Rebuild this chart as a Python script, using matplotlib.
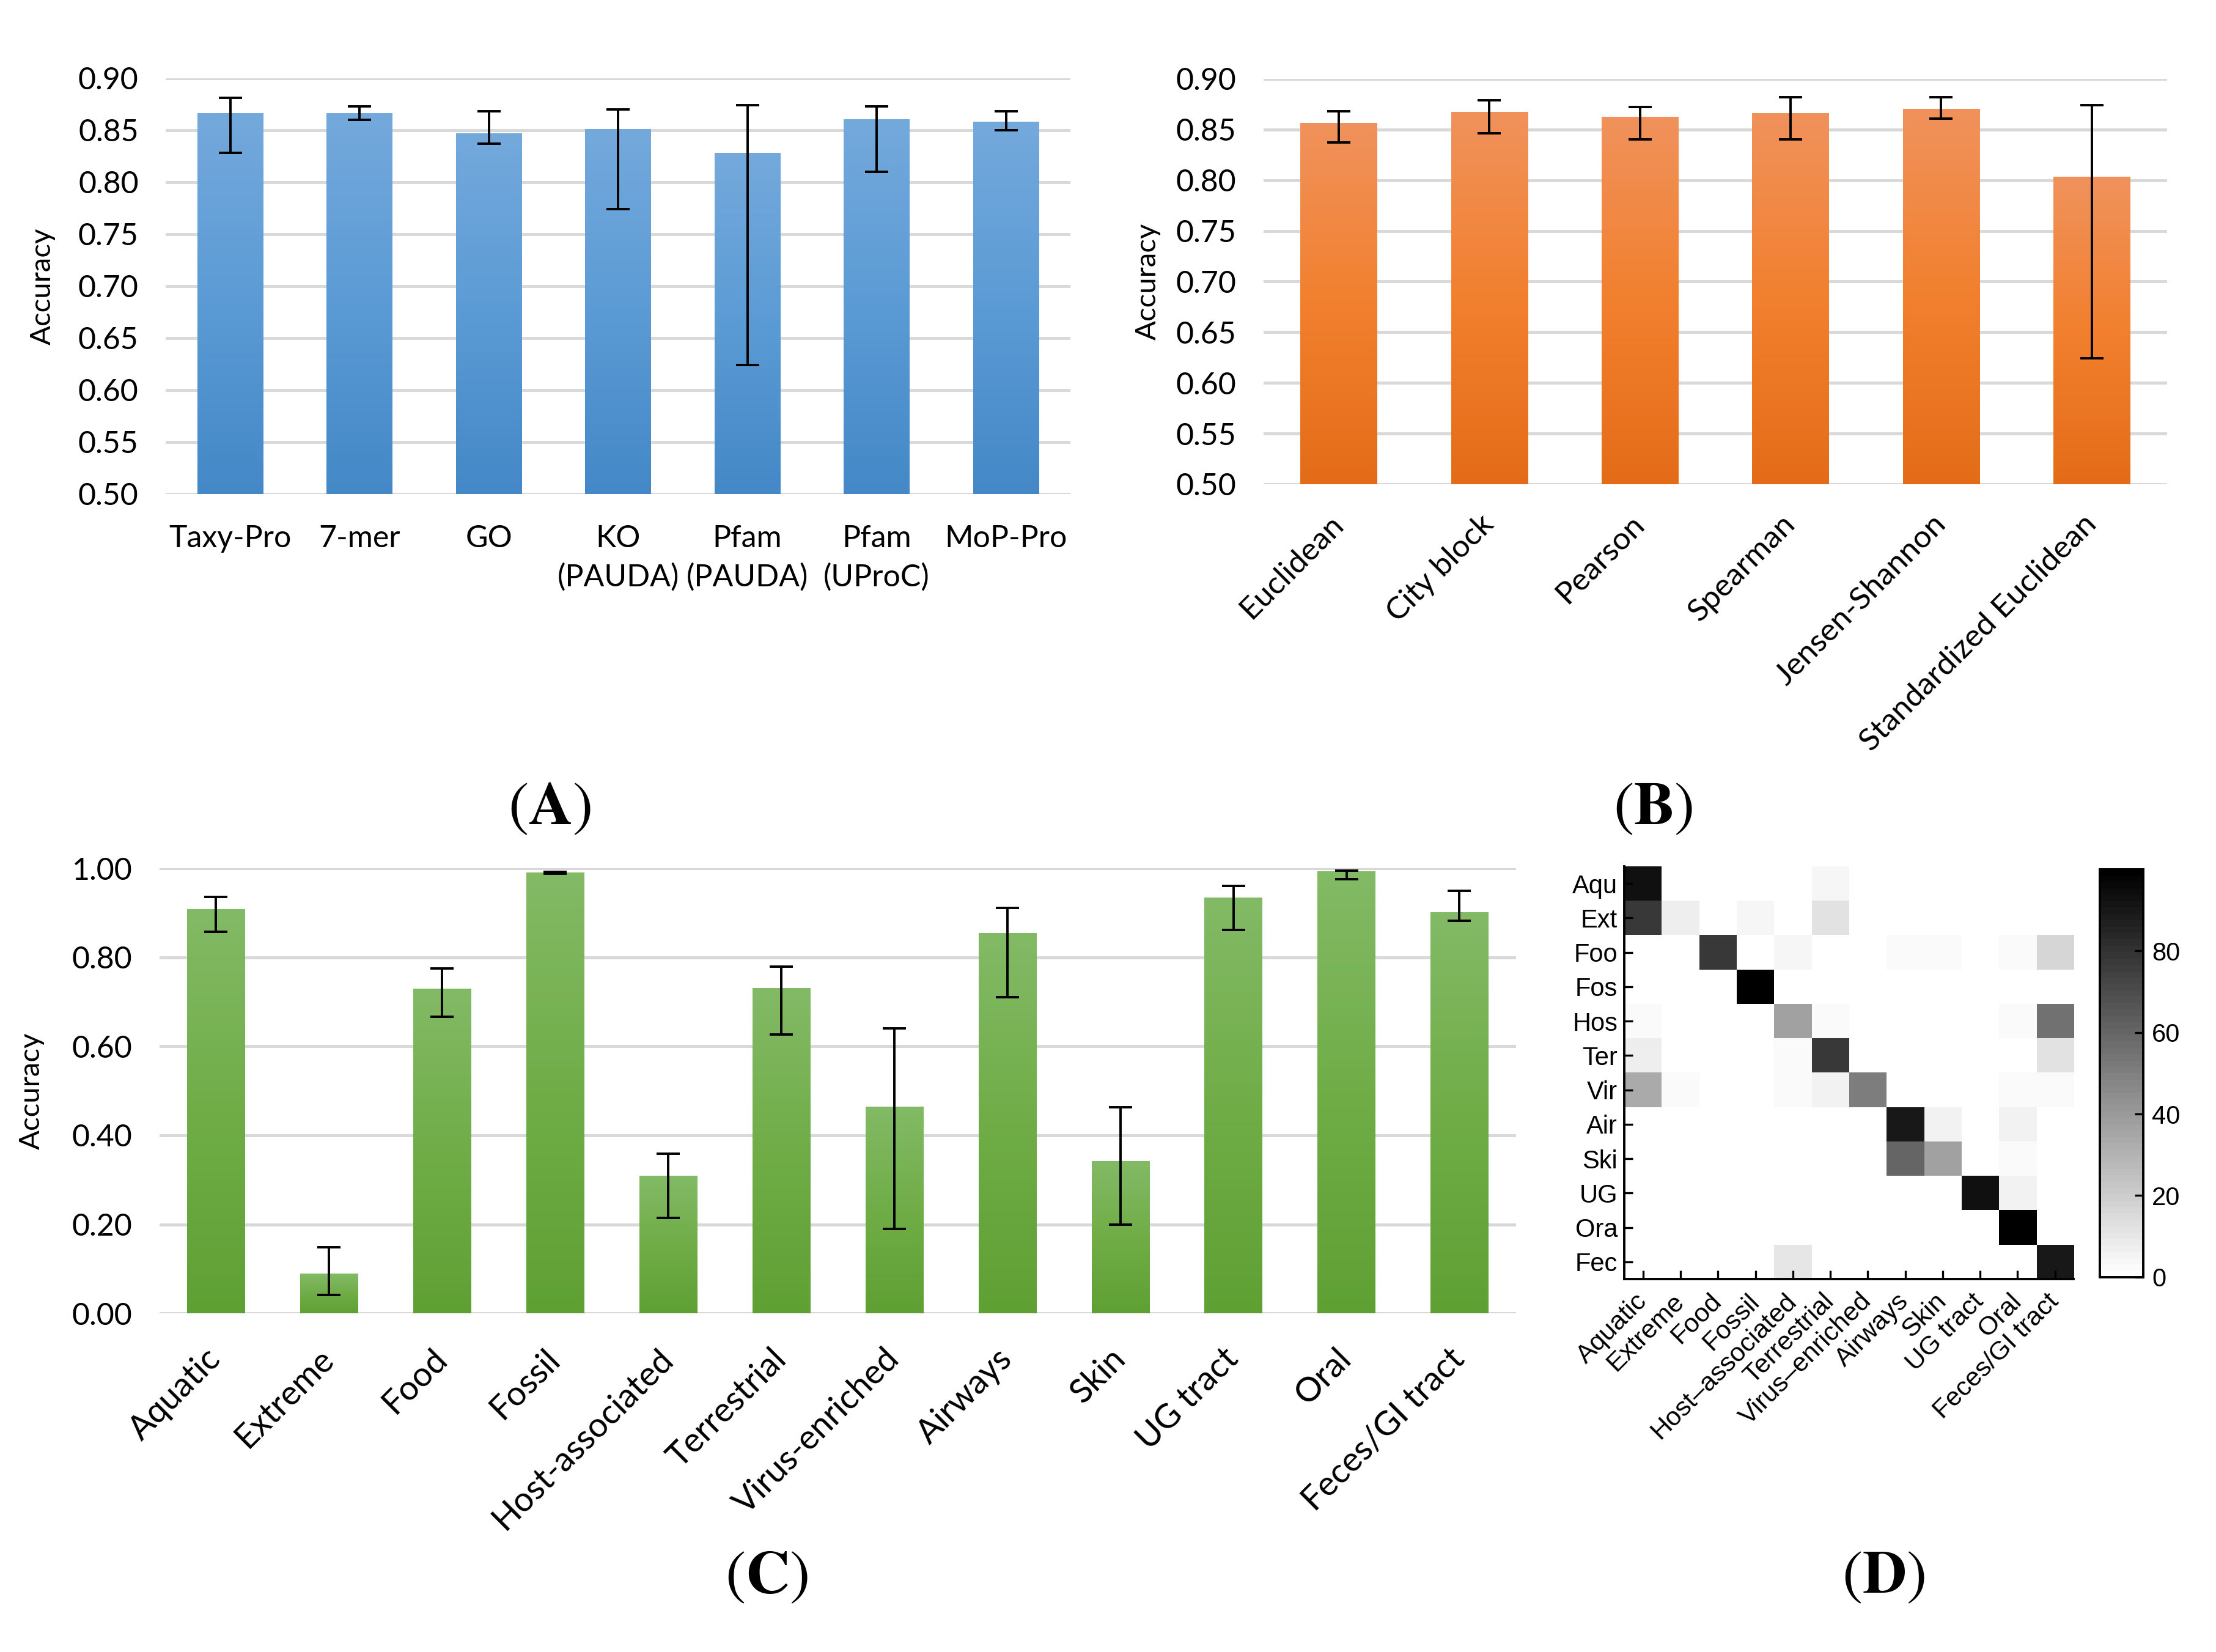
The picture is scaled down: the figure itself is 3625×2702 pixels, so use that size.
import numpy as np
import matplotlib
matplotlib.use('Agg')
import matplotlib.pyplot as plt
from matplotlib.colors import LinearSegmentedColormap
from matplotlib.ticker import FormatStrFormatter

## data
# (A) feature sets
feat_names = ['Taxy-Pro', '7-mer', 'GO', 'KO\n(PAUDA)', 'Pfam\n(PAUDA)', 'Pfam\n(UProC)', 'MoP-Pro']
feat_acc = [0.866, 0.866, 0.847, 0.851, 0.828, 0.860, 0.858]
feat_lo = [0.828, 0.860, 0.837, 0.774, 0.624, 0.810, 0.850]
feat_hi = [0.881, 0.873, 0.868, 0.870, 0.874, 0.873, 0.868]

# (B) distance measures
dist_names = ['Euclidean', 'City block', 'Pearson', 'Spearman', 'Jensen-Shannon', 'Standardized Euclidean']
dist_acc = [0.856, 0.867, 0.862, 0.866, 0.870, 0.803]
dist_lo = [0.837, 0.846, 0.840, 0.840, 0.861, 0.624]
dist_hi = [0.868, 0.879, 0.872, 0.882, 0.882, 0.874]

# (C) per environment
env_names = ['Aquatic', 'Extreme', 'Food', 'Fossil', 'Host-associated', 'Terrestrial',
             'Virus-enriched', 'Airways', 'Skin', 'UG tract', 'Oral', 'Feces/GI tract']
env_acc = [0.907, 0.088, 0.729, 0.990, 0.309, 0.730, 0.463, 0.854, 0.341, 0.933, 0.992, 0.901]
env_lo = [0.857, 0.042, 0.666, 0.988, 0.215, 0.627, 0.190, 0.711, 0.199, 0.861, 0.975, 0.882]
env_hi = [0.936, 0.149, 0.775, 0.992, 0.359, 0.779, 0.640, 0.911, 0.463, 0.961, 0.995, 0.950]

# (D) confusion matrix (%), rows = true, cols = predicted
conf_rows = ['Aqu', 'Ext', 'Foo', 'Fos', 'Hos', 'Ter', 'Vir', 'Air', 'Ski', 'UG', 'Ora', 'Fec']
conf_cols = ['Aquatic', 'Extreme', 'Food', 'Fossil', 'Host\u2013associated', 'Terrestrial',
             'Virus\u2013enriched', 'Airways', 'Skin', 'UG tract', 'Oral', 'Feces/GI tract']
conf = np.array([
    [93, 0, 0, 0, 0, 4, 0, 0, 0, 0, 0, 0],
    [77, 7, 0, 4, 0, 12, 0, 0, 0, 0, 0, 0],
    [0, 0, 77, 0, 4, 0, 0, 2, 2, 0, 2, 16],
    [0, 0, 0, 99, 0, 0, 0, 0, 0, 0, 0, 0],
    [2, 0, 0, 0, 37, 2, 0, 0, 0, 0, 2, 56],
    [7, 0, 0, 0, 2, 77, 0, 0, 0, 0, 0, 12],
    [33, 2, 0, 0, 2, 6, 50, 0, 0, 0, 2, 3],
    [0, 0, 0, 0, 0, 0, 0, 90, 6, 0, 5, 0],
    [0, 0, 0, 0, 0, 0, 0, 60, 37, 0, 2, 0],
    [0, 0, 0, 0, 0, 0, 0, 0, 0, 93, 5, 0],
    [0, 0, 0, 0, 0, 0, 0, 0, 0, 0, 99, 0],
    [0, 0, 0, 0, 10, 0, 0, 0, 0, 0, 0, 90],
])

BLUE = ['#4488C7', '#5B9BD5', '#74A9DC']
ORANGE = ['#E46C18', '#F2802E', '#F0925C']
GREEN = ['#5FA033', '#70AD47', '#83BA66']

FONT = 'Lato'
GRID = '#D9D9D9'
plt.rcParams['mathtext.fontset'] = 'stix'


def grad_bars(ax, vals, lo, hi, cols, ybase):
    x = np.arange(len(vals))
    vals = np.array(vals)
    bars = ax.bar(x, vals - ybase, 0.51, bottom=ybase, color='none', zorder=2)
    cmap = LinearSegmentedColormap.from_list('g', cols)
    grad = np.linspace(0, 1, 256).reshape(-1, 1)
    for b in bars:
        x0, y0 = b.get_x(), b.get_y()
        ax.imshow(grad, extent=[x0, x0 + b.get_width(), y0, y0 + b.get_height()],
                  origin='lower', aspect='auto', cmap=cmap, zorder=2)
    ax.errorbar(x, vals, yerr=[vals - np.array(lo), np.array(hi) - vals], fmt='none',
                ecolor='black', elinewidth=1.4, capsize=7, capthick=1.4, zorder=3)
    ax.set_xlim(-0.5, len(vals) - 0.5)
    for s in ax.spines.values():
        s.set_visible(False)
    ax.set_axisbelow(True)
    ax.grid(axis='y', color=GRID, lw=1.8)
    ax.yaxis.set_major_formatter(FormatStrFormatter('%.2f'))
    ax.tick_params(length=0, labelsize=18, pad=16)
    for t in ax.get_yticklabels():
        t.set_fontfamily(FONT)
    ax.set_xticks(x)


fig = plt.figure(figsize=(18.125, 13.51), dpi=200)

## (A)
axA = fig.add_axes([0.0748, 0.7010, 0.4083, 0.2517])
grad_bars(axA, feat_acc, feat_lo, feat_hi, BLUE, 0.5)
axA.set_ylim(0.5, 0.9)
axA.set_yticks(np.arange(0.5, 0.901, 0.05))
axA.set_xticklabels(feat_names, fontfamily=FONT, fontsize=18, linespacing=1.45)
axA.tick_params(axis='x', pad=18)
axA.set_ylabel('Accuracy', fontfamily=FONT, fontsize=17)
axA.yaxis.set_label_coords(-0.122, 0.5)

## (B)
axB = fig.add_axes([0.5702, 0.7069, 0.4077, 0.2454])
grad_bars(axB, dist_acc, dist_lo, dist_hi, ORANGE, 0.5)
axB.set_ylim(0.5, 0.9)
axB.set_yticks(np.arange(0.5, 0.901, 0.05))
axB.set_xticklabels(dist_names, fontfamily=FONT, fontsize=18.5, rotation=45,
                    ha='right', va='center', rotation_mode='anchor')
axB.tick_params(axis='x', pad=21)
axB.set_ylabel('Accuracy', fontfamily=FONT, fontsize=17)
axB.yaxis.set_label_coords(-0.114, 0.5)

## (C)
axC = fig.add_axes([0.0720, 0.2050, 0.6121, 0.2694])
grad_bars(axC, env_acc, env_lo, env_hi, GREEN, 0.0)
axC.set_ylim(0, 1.0)
axC.set_yticks(np.arange(0, 1.001, 0.2))
axC.set_xticklabels(env_names, fontfamily=FONT, fontsize=20, rotation=45,
                    ha='right', va='center', rotation_mode='anchor')
axC.tick_params(axis='x', pad=24)
axC.set_ylabel('Accuracy', fontfamily=FONT, fontsize=17)
axC.yaxis.set_label_coords(-0.085, 0.5)

## (D)
axD = fig.add_axes([0.7330, 0.2258, 0.2028, 0.2498])
gcm = plt.get_cmap('gray_r', 64)
im = axD.imshow(conf, cmap=gcm, vmin=0, vmax=100, aspect='auto', interpolation='nearest')
axD.set_xticks(np.arange(len(conf_cols)))
axD.set_yticks(np.arange(len(conf_rows)))
axD.set_xticklabels(conf_cols, rotation=45, ha='right', va='center', rotation_mode='anchor',
                    fontfamily='Liberation Sans', fontsize=15.5)
axD.set_yticklabels(conf_rows, fontfamily='Liberation Sans', fontsize=15)
axD.tick_params(direction='in', length=5, width=1.2, pad=4)
axD.tick_params(axis='x', pad=11)
axD.spines['top'].set_visible(False)
axD.spines['right'].set_visible(False)
axD.spines['left'].set_linewidth(1.4)
axD.spines['bottom'].set_linewidth(1.4)

cax = fig.add_axes([0.9476, 0.2269, 0.0196, 0.2469])
cb = fig.colorbar(im, cax=cax)
cb.set_ticks([0, 20, 40, 60, 80])
cax.tick_params(direction='in', length=5, width=1.2, labelsize=15, pad=5)
for t in cax.get_yticklabels():
    t.set_fontfamily('Liberation Sans')
cb.outline.set_linewidth(1.4)

## panel letters
for lbl, x, y in [('A', 0.248, 0.511), ('B', 0.746, 0.511), ('C', 0.346, 0.046), ('D', 0.850, 0.046)]:
    fig.text(x, y, r'$(\mathbf{%s})$' % lbl, fontsize=36, ha='center', va='center')

fig.savefig('out.png', dpi=200, facecolor='white')
